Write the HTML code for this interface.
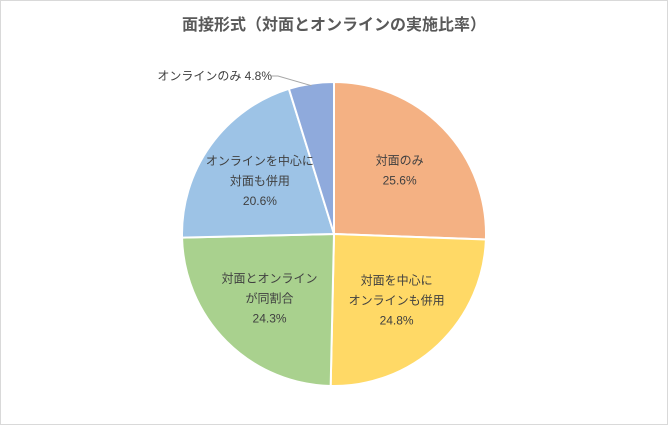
<!DOCTYPE html>
<html><head><meta charset="utf-8"><style>
body{margin:0;background:#fff;}
svg{display:block;font-family:"Liberation Sans","Noto Sans CJK JP",sans-serif;}
</style></head><body>
<svg width="668" height="425" viewBox="0 0 668 425">
<rect x="0.5" y="0.5" width="667" height="424" fill="#fff" stroke="#d9d9d9"/>
<text x="334" y="30" text-anchor="middle" font-size="16" font-weight="bold" fill="#595959">面接形式（対面とオンラインの実施比率）</text>
<g id="slices"></g>
<g id="labels" font-size="12" fill="#404040" text-anchor="middle"></g>
</svg>
<script>
const categories=["対面のみ","対面を中心に\nオンラインも併用","対面とオンライン\nが同割合","オンラインを中心に\n対面も併用","オンラインのみ"];
const values=[25.6,24.8,24.3,20.6,4.8];
const colors=["#F4B183","#FFD966","#A9D18E","#9DC3E6","#8FAADC"];
const cx=334,cy=234,r=152;
const ns="http://www.w3.org/2000/svg";
const gs=document.getElementById('slices'),gl=document.getElementById('labels');
const total=values.reduce((a,b)=>a+b,0);
let acc=0;
function pt(a,rr){return [cx+rr*Math.sin(a),cy-rr*Math.cos(a)];}
values.forEach((v,i)=>{
  const a0=acc/total*2*Math.PI;acc+=v;const a1=acc/total*2*Math.PI;
  const p0=pt(a0,r),p1=pt(a1,r);const large=(a1-a0)>Math.PI?1:0;
  const p=document.createElementNS(ns,'path');
  p.setAttribute('d',`M${cx},${cy}L${p0[0]},${p0[1]}A${r},${r} 0 ${large} 1 ${p1[0]},${p1[1]}Z`);
  p.setAttribute('fill',colors[i]);p.setAttribute('stroke','#fff');p.setAttribute('stroke-width','2');
  
  
  gs.appendChild(p);
  const am=(a0+a1)/2;
  const lines=categories[i].split('\n').concat([v.toFixed(1)+'%']);
  if(v<8){
    const e=pt(am,r-2),o=[cx-58,cy-156];
    const l=document.createElementNS(ns,'polyline');
    l.setAttribute('points',`${e[0]},${e[1]} ${o[0]+2},${o[1]-2} ${o[0]-4},${o[1]-2}`);
    l.setAttribute('fill','none');l.setAttribute('stroke','#a6a6a6');
    
    
    gs.appendChild(l);
    const t=document.createElementNS(ns,'text');
    t.setAttribute('x',o[0]-4);t.setAttribute('y',o[1]+2);t.setAttribute('text-anchor','end');
    t.textContent=categories[i]+' '+v.toFixed(1)+'%';
    
    
    gl.appendChild(t);
  } else {
    const c=pt(am,r*0.6);
    const t=document.createElementNS(ns,'text');
    
    
    const h=20,start=c[1]-(lines.length-1)*h/2+4;
    lines.forEach((s,j)=>{const ts=document.createElementNS(ns,'tspan');ts.setAttribute('x',c[0]);ts.setAttribute('y',start+j*h);ts.textContent=s;t.appendChild(ts);});
    gl.appendChild(t);
  }
});
</script>
</body></html>
